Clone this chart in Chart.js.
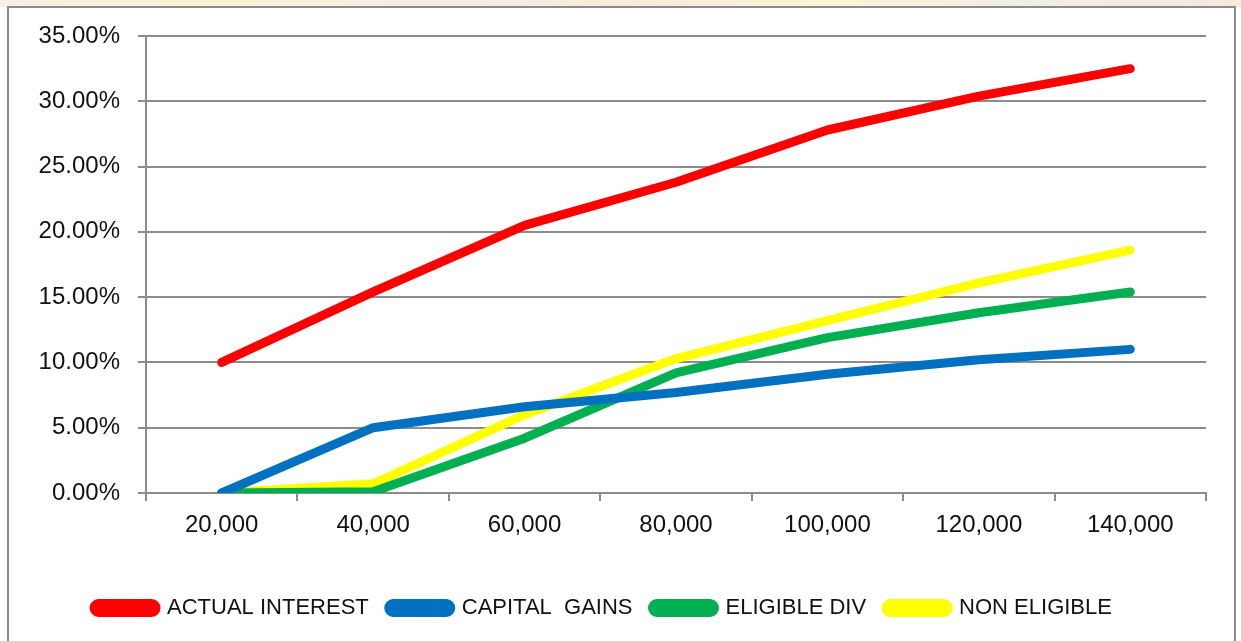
<!DOCTYPE html>
<html>
<head>
<meta charset="utf-8">
<script src="https://cdn.jsdelivr.net/npm/chart.js@4.4.1/dist/chart.umd.min.js"></script>
<style>
    html, body { margin: 0; padding: 0; background: #fff; }
    body { width: 1241px; height: 641px; position: relative; overflow: hidden; }
    .strip { position: absolute; left: 0; top: 0; width: 1241px; height: 7px;
             background: linear-gradient(90deg, #f6efe4, #fbf3d6, #f3efe8, #f8ecdc, #fbf4d8, #f1eee9, #f7e9dc); }
    .frame { position: absolute; left: 7px; top: 6px; width: 1229px; height: 640px;
             border: 2px solid #8a8a8a; background: #fff; box-sizing: border-box; }
    #wrap { position: absolute; left: 0; top: 0; width: 1241px; height: 641px; }
</style>
</head>
<body>
<div class="strip"></div>
<div class="frame"></div>
<div id="wrap"><canvas id="chart"></canvas></div>
<script>
const incomeLevels = ['20,000', '40,000', '60,000', '80,000', '100,000', '120,000', '140,000'];
const actualInterest = [10.0, 15.4, 20.5, 23.8, 27.8, 30.4, 32.5];
const capitalGains = [0.0, 5.0, 6.6, 7.7, 9.1, 10.2, 11.0];
const eligibleDiv = [0.0, 0.1, 4.2, 9.2, 11.9, 13.8, 15.4];
const nonEligible = [0.0, 0.7, 6.0, 10.3, 13.2, 16.1, 18.6];
const yTicks = [0, 5, 10, 15, 20, 25, 30, 35];

const gridGray = '#8c8c8c';
const labelFont = 'Liberation Sans, Arial, sans-serif';

function makeSeries(label, data, color) {
    return {
        label: label,
        data: data,
        borderColor: color,
        backgroundColor: color,
        borderWidth: 9,
        borderCapStyle: 'round',
        borderJoinStyle: 'round',
        pointRadius: 0,
        tension: 0
    };
}

document.addEventListener("DOMContentLoaded", () => {
    const ctx = document.getElementById('chart').getContext('2d');
    new Chart(ctx, {
        type: 'line',
        data: {
            labels: incomeLevels,
            datasets: [
                makeSeries('ACTUAL INTEREST', actualInterest, '#ff0000'),
                makeSeries('CAPITAL  GAINS', capitalGains, '#0070c0'),
                makeSeries('ELIGIBLE DIV', eligibleDiv, '#00b050'),
                makeSeries('NON ELIGIBLE', nonEligible, '#ffff00')
            ]
        },
        options: {
            responsive: true,
            maintainAspectRatio: false,
            animation: false,
            layout: { padding: { left: 0, right: 35, top: 36, bottom: 12 } },
            plugins: {
                tooltip: { enabled: false },
                legend: {
                    position: 'bottom',
                    labels: {
                        font: { family: labelFont, size: 22 },
                        color: '#111',
                        boxWidth: 62,
                        boxHeight: 9,
                        useBorderRadius: true,
                        borderRadius: 4.5,
                        padding: 20
                    }
                }
            },
            scales: {
                x: {
                    offset: true,
                    grid: {
                        offset: true,
                        drawOnChartArea: false,
                        drawTicks: true,
                        tickLength: 8,
                        color: gridGray,
                        lineWidth: 2
                    },
                    border: { color: gridGray, width: 2 },
                    ticks: {
                        font: { family: labelFont, size: 24 },
                        color: '#111',
                        padding: 10,
                        maxRotation: 0
                    },
                    afterFit: scale => { scale.height = 84; }
                },
                y: {
                    min: 0,
                    max: 35,
                    afterBuildTicks: scale => {
                        scale.ticks = yTicks.map(v => ({ value: v }));
                    },
                    grid: {
                        color: gridGray,
                        lineWidth: 2,
                        tickLength: 8
                    },
                    border: { color: gridGray, width: 2 },
                    ticks: {
                        font: { family: labelFont, size: 24 },
                        color: '#111',
                        padding: 18,
                        callback: v => v.toFixed(2) + '%'
                    },
                    afterFit: scale => { scale.width = 146; }
                }
            }
        }
    });
});
</script>
</body>
</html>
